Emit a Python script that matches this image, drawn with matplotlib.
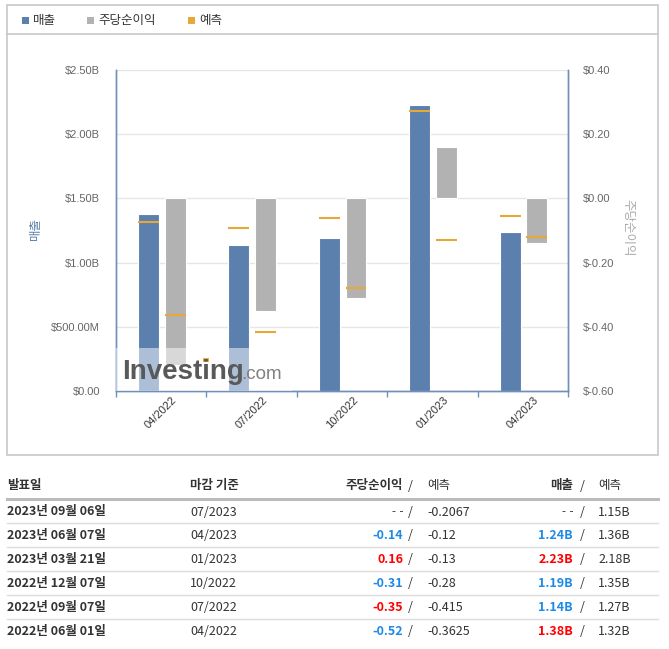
import matplotlib.pyplot as plt
from matplotlib.patches import Rectangle
from matplotlib.lines import Line2D
from matplotlib.ticker import FuncFormatter
import numpy as np

plt.rcParams['font.family'] = ['Liberation Sans', 'Noto Sans CJK KR', 'DejaVu Sans']

# chart data (oldest first)
periods = ['04/2022', '07/2022', '10/2022', '01/2023', '04/2023']
revenue = [1.38e9, 1.14e9, 1.19e9, 2.23e9, 1.24e9]
revenue_fc = [1.32e9, 1.27e9, 1.35e9, 2.18e9, 1.36e9]
eps = [-0.52, -0.35, -0.31, 0.16, -0.14]
eps_fc = [-0.3625, -0.415, -0.28, -0.13, -0.12]

# table data (newest first)
tbl_dates = ['2023년 09월 06일', '2023년 06월 07일', '2023년 03월 21일',
             '2022년 12월 07일', '2022년 09월 07일', '2022년 06월 01일']
tbl_periods = ['07/2023', '04/2023', '01/2023', '10/2022', '07/2022', '04/2022']
tbl_eps = [None, -0.14, 0.16, -0.31, -0.35, -0.52]
tbl_eps_fc = [-0.2067, -0.12, -0.13, -0.28, -0.415, -0.3625]
tbl_rev = [None, 1.24, 2.23, 1.19, 1.14, 1.38]
tbl_rev_fc = [1.15, 1.36, 2.18, 1.35, 1.27, 1.32]

BLUE = '#5b80ad'
GREY = '#b2b2b2'
ORANGE = '#e8a838'
SPINE = '#6f8fbd'
KR = ['Noto Sans CJK KR', 'DejaVu Sans']

W, H = 669, 649
fig = plt.figure(figsize=(W / 100, H / 100), dpi=100)


def fx(x):
    return x / W


def fy(y):
    return 1 - y / H


# outer box and legend row
fig.add_artist(Rectangle((fx(7), fy(455)), fx(658) - fx(7), fy(5) - fy(455),
                         transform=fig.transFigure, fill=False, ec='#c8c8c8', lw=1.2))
fig.add_artist(Line2D([fx(7), fx(658)], [fy(34), fy(34)], transform=fig.transFigure,
                      color='#c8c8c8', lw=1.2))
for sx, col, lab in [(22, BLUE, '매출'), (87, GREY, '주당순이익'), (188, ORANGE, '예측')]:
    fig.add_artist(Rectangle((fx(sx), fy(24)), fx(7), 7 / H, transform=fig.transFigure,
                             color=col, lw=0))
    fig.text(fx(sx + 11), fy(20.5), lab, fontsize=9, color='#333333', va='center',
             family=KR)

# chart
ax = fig.add_axes([fx(116), fy(391), fx(568) - fx(116), fy(70) - fy(391)])
ax2 = ax.twinx()
x = np.arange(len(periods))
bw = 0.232
xb = x - 0.14
xg = x + 0.155

ax.bar(xb, revenue, width=bw, color=BLUE, edgecolor='white', lw=0.8, zorder=2)
ax.hlines(revenue_fc, xb - bw / 2, xb + bw / 2, color=ORANGE, lw=1.5, zorder=3)
ax2.bar(xg, eps, width=bw, color=GREY, edgecolor='white', lw=0.8, zorder=2)
ax2.hlines(eps_fc, xg - bw / 2, xg + bw / 2, color=ORANGE, lw=1.5, zorder=3)

ax.set_xlim(-0.5, 4.5)
ax.set_ylim(0, 2.5e9)
ax2.set_ylim(-0.6, 0.4)
ax.set_yticks(np.arange(0, 2.51e9, 0.5e9))
ax2.set_yticks(np.arange(-0.6, 0.41, 0.2))


def rev_fmt(v, pos):
    if v == 0:
        return '$0.00'
    if v < 1e9:
        return f'${v / 1e6:.2f}M'
    return f'${v / 1e9:.2f}B'


def eps_fmt(v, pos):
    v = round(v, 2)
    if v == 0:
        return '$0.00'
    return f'${v:.2f}'


ax.yaxis.set_major_formatter(FuncFormatter(rev_fmt))
ax2.yaxis.set_major_formatter(FuncFormatter(eps_fmt))
ax.yaxis.grid(True, color='#e6e6e6', lw=1)
ax.set_axisbelow(True)

ax.tick_params(axis='y', length=0, labelsize=8, labelcolor='#666666', pad=11.5)
ax2.tick_params(axis='y', length=0, labelsize=8, labelcolor='#666666', pad=10.5)
ax.set_xticks(x)
ax.set_xticklabels(periods, rotation=45, ha='center', fontsize=8, color='#333333')
ax.set_xticks(np.arange(-0.5, 4.6, 1), minor=True)
ax.tick_params(axis='x', which='major', length=0, pad=3)
ax.tick_params(axis='x', which='minor', length=4, color=SPINE, width=1)

for a in (ax, ax2):
    a.spines['top'].set_visible(False)
    for s in ('left', 'right', 'bottom'):
        a.spines[s].set_color(SPINE)
        a.spines[s].set_linewidth(1)

fig.text(fx(35), fy(229), '매출', rotation=90, color=BLUE, fontsize=9,
         ha='center', va='center', family=KR)
fig.text(fx(628), fy(228), '주당순이익', rotation=270, color='#aaaaaa', fontsize=9,
         ha='center', va='center', family=KR)

# watermark
ax2.add_patch(Rectangle((0, 0), 0.39, 0.134, transform=ax2.transAxes, fc='white',
                        alpha=0.5, ec='none', zorder=10))
fig.text(fx(122), fy(379), 'Investing', fontsize=20, fontweight='bold', color='#58595b',
         va='baseline', ha='left')
fig.text(fx(241), fy(379), '.com', fontsize=13.5, color='#808080', va='baseline', ha='left')
fig.add_artist(Rectangle((fx(203), fy(362)), fx(6), 4 / H, transform=fig.transFigure,
                         color='#f0b030', lw=0))

# table
fig.add_artist(Line2D([fx(7), fx(658)], [fy(499), fy(499)], transform=fig.transFigure,
                      color='#bbbbbb', lw=2.2))
for i in range(5):
    yl = 523 + 24 * i
    fig.add_artist(Line2D([fx(7), fx(658)], [fy(yl), fy(yl)], transform=fig.transFigure,
                          color='#dddddd', lw=1))

hy = fy(486)
fs = 9
dark = '#333333'
fig.text(fx(7), hy, '발표일', fontsize=fs, fontweight='bold', color=dark, va='center', family=KR)
fig.text(fx(190), hy, '마감 기준', fontsize=fs, fontweight='bold', color=dark, va='center', family=KR)
fig.text(fx(403), hy, '주당순이익', fontsize=fs, fontweight='bold', color=dark, va='center',
         ha='right', family=KR)
fig.text(fx(410), hy, '/', fontsize=fs, color=dark, va='center', ha='center', family=KR)
fig.text(fx(427), hy, '예측', fontsize=fs, color=dark, va='center', family=KR)
fig.text(fx(573), hy, '매출', fontsize=fs, fontweight='bold', color=dark, va='center',
         ha='right', family=KR)
fig.text(fx(582), hy, '/', fontsize=fs, color=dark, va='center', ha='center', family=KR)
fig.text(fx(598), hy, '예측', fontsize=fs, color=dark, va='center', family=KR)


def beat_color(actual, forecast):
    return '#ff0000' if actual > forecast else '#1e8ae6'


for i in range(len(tbl_dates)):
    ry = fy(512 + 23.9 * i)
    fig.text(fx(7), ry, tbl_dates[i], fontsize=fs, fontweight='bold', color=dark,
             va='center', family=KR)
    fig.text(fx(190), ry, tbl_periods[i], fontsize=fs, color=dark, va='center', family=KR)
    if tbl_eps[i] is None:
        fig.text(fx(403), ry, '- -', fontsize=fs, color=dark, va='center', ha='right',
                 family=['Liberation Sans'])
    else:
        fig.text(fx(403), ry, f'{tbl_eps[i]:.2f}', fontsize=fs, fontweight='bold',
                 color=beat_color(tbl_eps[i], tbl_eps_fc[i]), va='center', ha='right', family=KR)
    fig.text(fx(410), ry, '/', fontsize=fs, color=dark, va='center', ha='center', family=KR)
    fig.text(fx(427), ry, str(tbl_eps_fc[i]), fontsize=fs, color=dark, va='center', family=KR)
    if tbl_rev[i] is None:
        fig.text(fx(573), ry, '- -', fontsize=fs, color=dark, va='center', ha='right',
                 family=['Liberation Sans'])
    else:
        fig.text(fx(573), ry, f'{tbl_rev[i]:.2f}B', fontsize=fs, fontweight='bold',
                 color=beat_color(tbl_rev[i], tbl_rev_fc[i]), va='center', ha='right', family=KR)
    fig.text(fx(582), ry, '/', fontsize=fs, color=dark, va='center', ha='center', family=KR)
    fig.text(fx(598), ry, f'{tbl_rev_fc[i]:.2f}B', fontsize=fs, color=dark, va='center', family=KR)

fig.savefig('out.png', dpi=100)
